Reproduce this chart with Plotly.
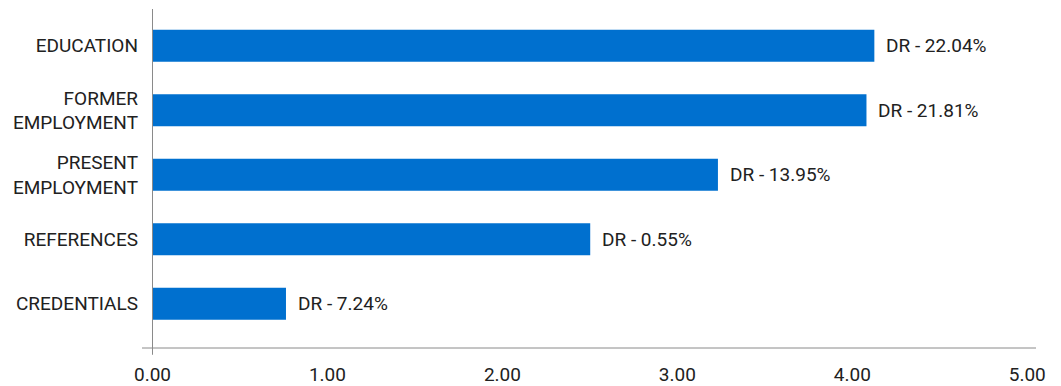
import plotly.graph_objects as go

categories = ["EDUCATION", "FORMER<br>EMPLOYMENT", "PRESENT<br>EMPLOYMENT", "REFERENCES", "CREDENTIALS"]
values = [4.126, 4.081, 3.232, 2.502, 0.763]
labels = ["DR - 22.04%", "DR - 21.81%", "DR - 13.95%", "DR - 0.55%", "DR - 7.24%"]
x_ticks = [0, 1, 2, 3, 4, 5]
x_tick_text = ["0.00", "1.00", "2.00", "3.00", "4.00", "5.00"]

FONT = "Roboto"
TEXT_COLOR = "#212121"
BAR_COLOR = "#0070CF"
AXIS_COLOR = "#8a8a8a"
FS = 19

fig = go.Figure()
fig.add_trace(go.Bar(
    x=values, y=categories, orientation="h",
    marker=dict(color=BAR_COLOR, line=dict(width=0)),
    width=0.496, hoverinfo="skip",
))

for v, c, t in zip(values, categories, labels):
    fig.add_annotation(x=v, y=c, text=t, showarrow=False, xanchor="left", yanchor="middle",
                       xshift=10, font=dict(family=FONT, size=FS, color=TEXT_COLOR))

# axis lines
fig.add_shape(type="line", xref="x", yref="paper", x0=-0.06, x1=5.05, y0=0, y1=0,
              line=dict(color=AXIS_COLOR, width=1))
fig.add_shape(type="line", xref="x", yref="paper", x0=0, x1=0, y0=1, y1=-0.02,
              line=dict(color=AXIS_COLOR, width=1))

fig.update_layout(
    width=1061, height=386,
    margin=dict(l=142, r=25, t=9, b=38, autoexpand=False),
    plot_bgcolor="white", paper_bgcolor="white",
    showlegend=False,
    font=dict(family=FONT, size=FS, color=TEXT_COLOR),
    xaxis=dict(range=[-0.06, 5.05], tickvals=x_ticks, ticktext=x_tick_text,
               showgrid=False, zeroline=False, showline=False, ticks="", automargin=False,
               ticklabelstandoff=13, tickfont=dict(family=FONT, size=FS, color=TEXT_COLOR)),
    yaxis=dict(categoryorder="array", categoryarray=categories[::-1],
               range=[-0.685, 4.571], showgrid=False, zeroline=False, showline=False, ticks="",
               automargin=False,
               ticklabelstandoff=3, tickfont=dict(family=FONT, size=FS, color=TEXT_COLOR)),
)

fig.write_html("out.html")
